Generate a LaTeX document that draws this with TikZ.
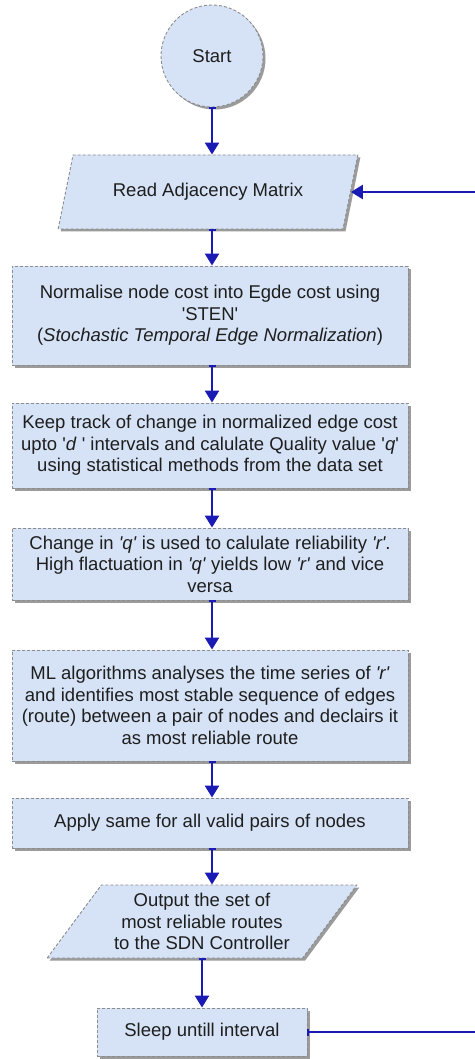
\documentclass[tikz,border=0pt]{standalone}
\usepackage{fontspec}
\setmainfont{Liberation Sans}
\usetikzlibrary{shapes.geometric,arrows.meta,shadows}
\definecolor{boxfill}{HTML}{D6E3F6}
\definecolor{boxline}{HTML}{8C8C8C}
\definecolor{arrowblue}{HTML}{1A1AB4}
\definecolor{txt}{HTML}{1E1E1E}
\newcommand\sq{\textquotesingle}
\begin{document}
\begin{tikzpicture}[x=1pt,y=-1pt,
  every node/.style={font=\fontsize{18.5}{21.5}\selectfont, text=txt, align=center, inner sep=0pt},
  shapebase/.style={draw=boxline, fill=boxfill, line width=0.9pt, dash pattern=on 3pt off 2pt,
    drop shadow={shadow xshift=2.5pt, shadow yshift=-2.5pt, fill=black!65, opacity=0.6}},
  procbox/.style={shapebase, rectangle, minimum width=396pt},
  iobox/.style={shapebase, trapezium, trapezium stretches=true},
  flow/.style={draw=arrowblue, line width=2.4pt, {Bar[width=7pt,line width=2pt]}-{Triangle[length=12pt,width=14pt]}}
]
\useasboundingbox[fill=white] (0,0) rectangle (474,1059);

\node[shapebase, circle, minimum size=102pt] (start) at (212,56) {Start};

\node[iobox, trapezium left angle=58.7, trapezium right angle=121.3,
  minimum width=300pt, minimum height=74pt] (read) at (208,192) {Read Adjacency Matrix};

\node[procbox, minimum height=99pt] (norm) at (210,315.5)
  {Normalise node cost into Egde cost using\\ \sq STEN\sq\\ (\textit{Stochastic Temporal Edge Normalization})};

\node[procbox, minimum height=85pt] (track) at (210,445.5)
  {Keep track of change in normalized edge cost\\
   upto \sq\textit{d}~\sq{} intervals and calulate Quality value \sq\textit{q}\sq\\
   using statistical methods from the data set};

\node[procbox, minimum height=72pt] (rel) at (210,564)
  {Change in \textit{\sq q\sq} is used to calulate reliability \textit{\sq r\sq}.\\
   High flactuation in \textit{\sq q\sq} yields low \textit{\sq r\sq} and vice\\ versa};

\node[procbox, minimum height=111pt] (ml) at (210,705.5)
  {ML algorithms analyses the time series of \textit{\sq r\sq}\\
   and identifies most stable sequence of edges\\
   (route) between a pair of nodes and declairs it\\
   as most reliable route};

\node[procbox, minimum height=50pt] (apply) at (210,823)
  {Apply same for all valid pairs of nodes};

\node[iobox, trapezium left angle=50.1, trapezium right angle=129.9,
  minimum width=310pt, minimum height=73pt] (out) at (202,921.5)
  {Output the set of\\ most reliable routes\\ to the SDN Controller};

\node[shapebase, rectangle, minimum width=210pt, minimum height=48pt] (sleep) at (202,1032)
  {Sleep untill interval};

\coordinate (loopx) at (482,600);

\draw[flow] (start.south) -- (start.south |- read.north);
\draw[flow] (read.south -| start.south) -- (start.south |- norm.north);
\draw[flow] (norm.south -| start.south) -- (start.south |- track.north);
\draw[flow] (track.south -| start.south) -- (start.south |- rel.north);
\draw[flow] (rel.south -| start.south) -- (start.south |- ml.north);
\draw[flow] (ml.south -| start.south) -- (start.south |- apply.north);
\draw[flow] (apply.south -| start.south) -- (start.south |- out.north);
\draw[flow] (out.south -| sleep.north) -- (sleep.north);
\draw[flow] (sleep.east) -- (sleep.east -| loopx) |- (read.east);
\end{tikzpicture}
\end{document}
